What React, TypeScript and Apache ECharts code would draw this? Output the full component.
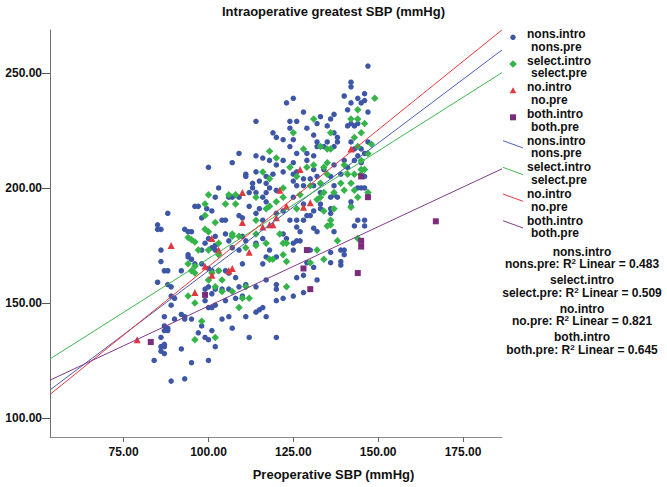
import React, { useEffect, useRef } from "react";
import * as echarts from "echarts";

// ---- data (Preoperative SBP, Intraoperative greatest SBP) ----
const groups = ["nons", "select", "no", "both"];
const r2Values = ["0.483", "0.509", "0.821", "0.645"];
const fitIntercepts = [53.0, 75.8, 46.8, 79.64];
const fitSlopes = [1.11, 0.935, 1.19, 0.69];
const xTicks = [75, 100, 125, 150, 175];
const yTicks = [100, 150, 200, 250];

const nonsPoints: number[][] = [
  [123,237],[125,239],[114,229],[124,229],[126,229],[124,226],[119,224],[120,222],[122,221],[125,221],[124,218],[126,215],[109,215],[114,214],[116,213],[118,212],[120,210],[100,209],[107,211],[122,212],[125,211],[111,206],[111,205],[114,207],[115,203],[117,205],[119,206],[122,207],[125,206],[126,207],[103,200],[113,202],[113,200],[112,198],[114,198],[117,202],[117,198],[118,200],[120,199],[125,203],[126,201],[102,196],[106,196],[107,196],[109,196],[116,196],[125,196],
  [147,253],[142,246],[142,244],[140,240],[146,241],[144,239],[145,237],[146,238],[142,237],[128,233],[133,231],[137,232],[136,230],[141,234],[147,233],[129,226],[132,228],[135,227],[131,223],[137,224],[142,228],[143,227],[144,228],[141,227],[138,222],[138,220],[132,220],[135,220],[132,218],[134,218],[137,218],[129,215],[131,214],[142,220],[143,217],[145,217],[147,220],[144,214],[146,215],[140,212],[141,209],[145,211],[143,212],[129,212],[134,208],[137,210],[139,206],[131,208],[132,205],[128,204],[130,204],[133,202],[136,205],[146,205],[144,200],[145,200],[146,200],[137,201],[131,201],[128,201],[133,198],[136,196],[137,197],[138,196],
  [88,189],[85,184],[86,182],[85,182],[93,182],[94,181],[95,181],[86,173],[86,168],[87,164],[88,164],[85,159],[88,158],[89,157],[92,164],[94,170],[95,169],[89,153],[90,152],[87,144],[89,149],[90,143],[92,145],[93,144],[93,143],[95,143],[87,140],[88,139],[88,138],[87,138],[86,135],[87,132],[86,131],[87,131],[86,129],[87,128],[84,125],[92,130],[95,124],[89,116],[93,117],[100,125],[102,131],[100,134],[97,137],[99,135],[101,138],[98,140],[104,143],[106,144],[107,139],[112,135],[120,135],[111,144],[114,146],[117,144],[115,147],[116,148],[120,151],[122,152],[125,153],[99,151],[100,148],[101,148],[102,149],[105,151],[108,152],[110,153],[101,154],[99,156],[100,157],[102,156],[104,156],[106,156],[109,157],[111,158],[114,157],[117,160],[120,158],[120,156],[126,161],[128,162],
  [96,192],[97,192],[98,187],[99.5,191],[101,190],[104,186],[105,186],[109,188],[110,187],[112,192],[114,189],[115,191],[116,186],[117,194],[120,189],[122,190],[124,186],[126,186],[126,183],[122,180],[123,178],[125,176],[126,177],[125,173],[120,170],[118,173],[116,178],[114,176],[111,177],[110,179],[109,173],[107,174],[106,177],[105,180],[102,179],[100,178],[99,176],[102,175],[101,174],[98,173],[102,173],[94,171],[96,167],[98,167],[100,165],[101,164],[103,164],[105,164],[106,163],[108,161],[110,167],[116,167],[117,170],
  [128,193],[133,193],[133,191],[136,191],[142,192],[142,194],[131,190],[130,188],[129,188],[136,189],[128,186],[131,182.5],[132,181],[137,181],[127,181],[127,177],[143,183.5],[144,186],[146,186],[146,183.5],[130,173],[136,172],[139,173],[140,173],[140,171],[139,168],[139,166.5],[136,167.5],[129,167.5],[131,165.5],[132,160],[128,154.5]
];

const selectPoints: number[][] = [
  [125,224],[118,216],[120,213],[116,207],[118,204],[124,209],[126,205],[114,196],[100,197],[106,197],[108,197],[122,200],[122,196],
  [149,239],[144,234],[142,230],[144,230],[146,228],[131,230],[136,224],[145,224],[143,222],[128,217],[133,218],[135,217],[136,217],[144,218],[148,219],[147,215],[145,212],[140,210],[129,209],[131,210],[135,211],[134,209],[145,208],[146,208],[145,206],[141,206],[143,206],[135,206],[133,202],[130,201],[139,202],[142,202],[140,199],[143,199],[137,198],[134,198],[147,198],[127,197],[132,195],[133,196],[144,196],
  [99,193],[105,193],[108,193],[99,188],[102,185],[99,182],[100,181],[94,178.5],[95,177.5],[96,176.5],[97,173],[100,173],[103,171],[103,176],[107,180],[107,179],[109,179],[114,186],[117,191],[118,192],[120,194],[114,180],[117,176],[114,175],[111,174],[118,169],[122,171],[121,180],[122,176],[123,176],[126,191],[123,168],[119,169],[96,166],[95,164],[96,163],[94,167],[103,164],[104,160],[100,160],[101,163],[104,155],[102,157],[107,155],[111,157],[112,152],[110,152],[109,148],[96,150],[94,153],[98,142],[96,134],[102,135],[123,157],
  [134,190],[137,191],[136,186],[135,183.5],[136,184],[138,177],[144,178],[132,173],[134,169],[130,167.5],[142,191.6]
];

const noPoints: number[][] = [
  [79,134],[89,175],[96,154.5],[99,166],[101,178],[101,162],[103,173],[106,164],[107,165],[110,185],[110,198],[112,172],[116,183],[118,184],[119,184],[120,187],[121,199],[123,192],[127,208],[128,191.6],[130,193.6],[142,217]
];

const bothPoints: number[][] = [
  [83,133],[99,153.5],[128,165],[129,173],[130,156],[144,163],[145,177],[145,174.5],[145,205],[147,196],[167,185.5]
];

const pointSets = [nonsPoints, selectPoints, noPoints, bothPoints];
const pointColors = ["#3d56a6", "#35b44a", "#e1373e", "#7b2c7c"];
const lineColors = ["#4b5fb2", "#3fb84f", "#e8383d", "#813a8c"];
const symbols = ["circle", "diamond", "triangle", "rect"];
const symbolSizes = [5.5, 7.5, 7, 6];

const X_MIN = 53.3, X_MAX = 186.5, Y_MIN = 91.7, Y_MAX = 268.7;
const FONT = "'Liberation Sans', Arial, sans-serif";

export default function App() {
  const ref = useRef<HTMLDivElement>(null);
  useEffect(() => {
    document.body.style.margin = "0";
    const chart = echarts.init(ref.current!, null, { renderer: "svg" });

    const scatterSeries = pointSets.map((pts, i) => ({
      type: "scatter",
      name: groups[i] + " points",
      data: pts,
      symbol: symbols[i],
      symbolSize: symbolSizes[i],
      itemStyle: { color: pointColors[i], opacity: 1 },
      z: 2 + i,
    }));
    const lineSeries = fitSlopes.map((b, i) => ({
      type: "line",
      name: groups[i] + " fit",
      data: [
        [X_MIN, fitIntercepts[i] + b * X_MIN],
        [X_MAX, fitIntercepts[i] + b * X_MAX],
      ],
      showSymbol: false,
      symbol: "none",
      clip: true,
      lineStyle: { color: lineColors[i], width: 1 },
      z: 10,
    }));

    const bold12 = `bold 12px ${FONT}`;
    const graphics: any[] = [];
    graphics.push({
      type: "text", x: 333.5, y: 11,
      style: { text: "Intraoperative greatest SBP (mmHg)", font: `bold 13px ${FONT}`, fill: "#111", align: "center", verticalAlign: "middle" },
    });
    graphics.push({
      type: "text", x: 333.5, y: 474,
      style: { text: "Preoperative SBP (mmHg)", font: `bold 13px ${FONT}`, fill: "#111", align: "center", verticalAlign: "middle" },
    });
    // legend
    for (let k = 0; k < 8; k++) {
      const gi = k % 4;
      const y1 = 34 + 26.67 * k;
      graphics.push({
        type: "text", x: 527, y: y1 + 6.25,
        style: {
          text: `{a|${groups[gi]}.intro}\n{b|${groups[gi]}.pre}`,
          align: "left", verticalAlign: "middle",
          rich: {
            a: { font: bold12, fill: "#111", lineHeight: 12.5 },
            b: { font: bold12, fill: "#111", lineHeight: 12.5, padding: [0, 0, 0, 4] },
          },
        },
      });
      const cx = 513, cy = y1 + 3.3;
      if (k < 4) {
        const col = pointColors[gi];
        if (gi === 0) graphics.push({ type: "circle", shape: { cx, cy, r: 2.7 }, style: { fill: col } });
        if (gi === 1) graphics.push({ type: "polygon", shape: { points: [[cx, cy - 3.8], [cx + 3.8, cy], [cx, cy + 3.8], [cx - 3.8, cy]] }, style: { fill: col } });
        if (gi === 2) graphics.push({ type: "polygon", shape: { points: [[cx, cy - 3.3], [cx + 3.3, cy + 2.6], [cx - 3.3, cy + 2.6]] }, style: { fill: col } });
        if (gi === 3) graphics.push({ type: "rect", shape: { x: cx - 3, y: cy - 3, width: 6, height: 6 }, style: { fill: col } });
      } else {
        graphics.push({ type: "line", shape: { x1: 503, y1: y1, x2: 523, y2: y1 + 7.3 }, style: { stroke: lineColors[gi], lineWidth: 1 } });
      }
    }
    // R2 block
    for (let i = 0; i < 4; i++) {
      const y1 = 251.7 + 28.5 * i;
      graphics.push({
        type: "text", x: 582, y: y1 + 6.25,
        style: {
          text: `{b|${groups[i]}.intro}\n{b|${groups[i]}.pre: R}{sup|2}{b| Linear = ${r2Values[i]}}`,
          align: "center", verticalAlign: "middle",
          rich: {
            b: { font: bold12, fill: "#111", lineHeight: 12.5, verticalAlign: "middle" },
            sup: { font: `bold 8px ${FONT}`, fill: "#111", lineHeight: 12.5, verticalAlign: "top" },
          },
        },
      });
    }

    chart.setOption({
      animation: false,
      backgroundColor: "#ffffff",
      grid: { left: 50, right: 165, top: 30, bottom: 50, containLabel: false, outerBoundsMode: "none" },
      xAxis: {
        type: "value", min: X_MIN, max: X_MAX,
        splitLine: { show: false },
        axisLine: { show: true, onZero: false, lineStyle: { color: "#8a8a8a", width: 1 } },
        axisTick: { show: true, length: 5, customValues: xTicks, lineStyle: { color: "#666" } },
        axisLabel: { customValues: xTicks, margin: 9, formatter: (v: number) => v.toFixed(2), color: "#111", fontWeight: "bold", fontSize: 12, fontFamily: FONT },
      },
      yAxis: {
        type: "value", min: Y_MIN, max: Y_MAX,
        splitLine: { show: false },
        axisLine: { show: true, onZero: false, lineStyle: { color: "#6e6e6e", width: 1 } },
        axisTick: { show: true, length: 8, customValues: yTicks, lineStyle: { color: "#555" } },
        axisLabel: { customValues: yTicks, margin: 8, formatter: (v: number) => v.toFixed(2), color: "#111", fontWeight: "bold", fontSize: 12, fontFamily: FONT },
      },
      series: [...scatterSeries, ...lineSeries],
      graphic: graphics,
    });
    return () => chart.dispose();
  }, []);
  return <div ref={ref} style={{ position: "absolute", left: 0, top: 0, width: 667, height: 487 }} />;
}
